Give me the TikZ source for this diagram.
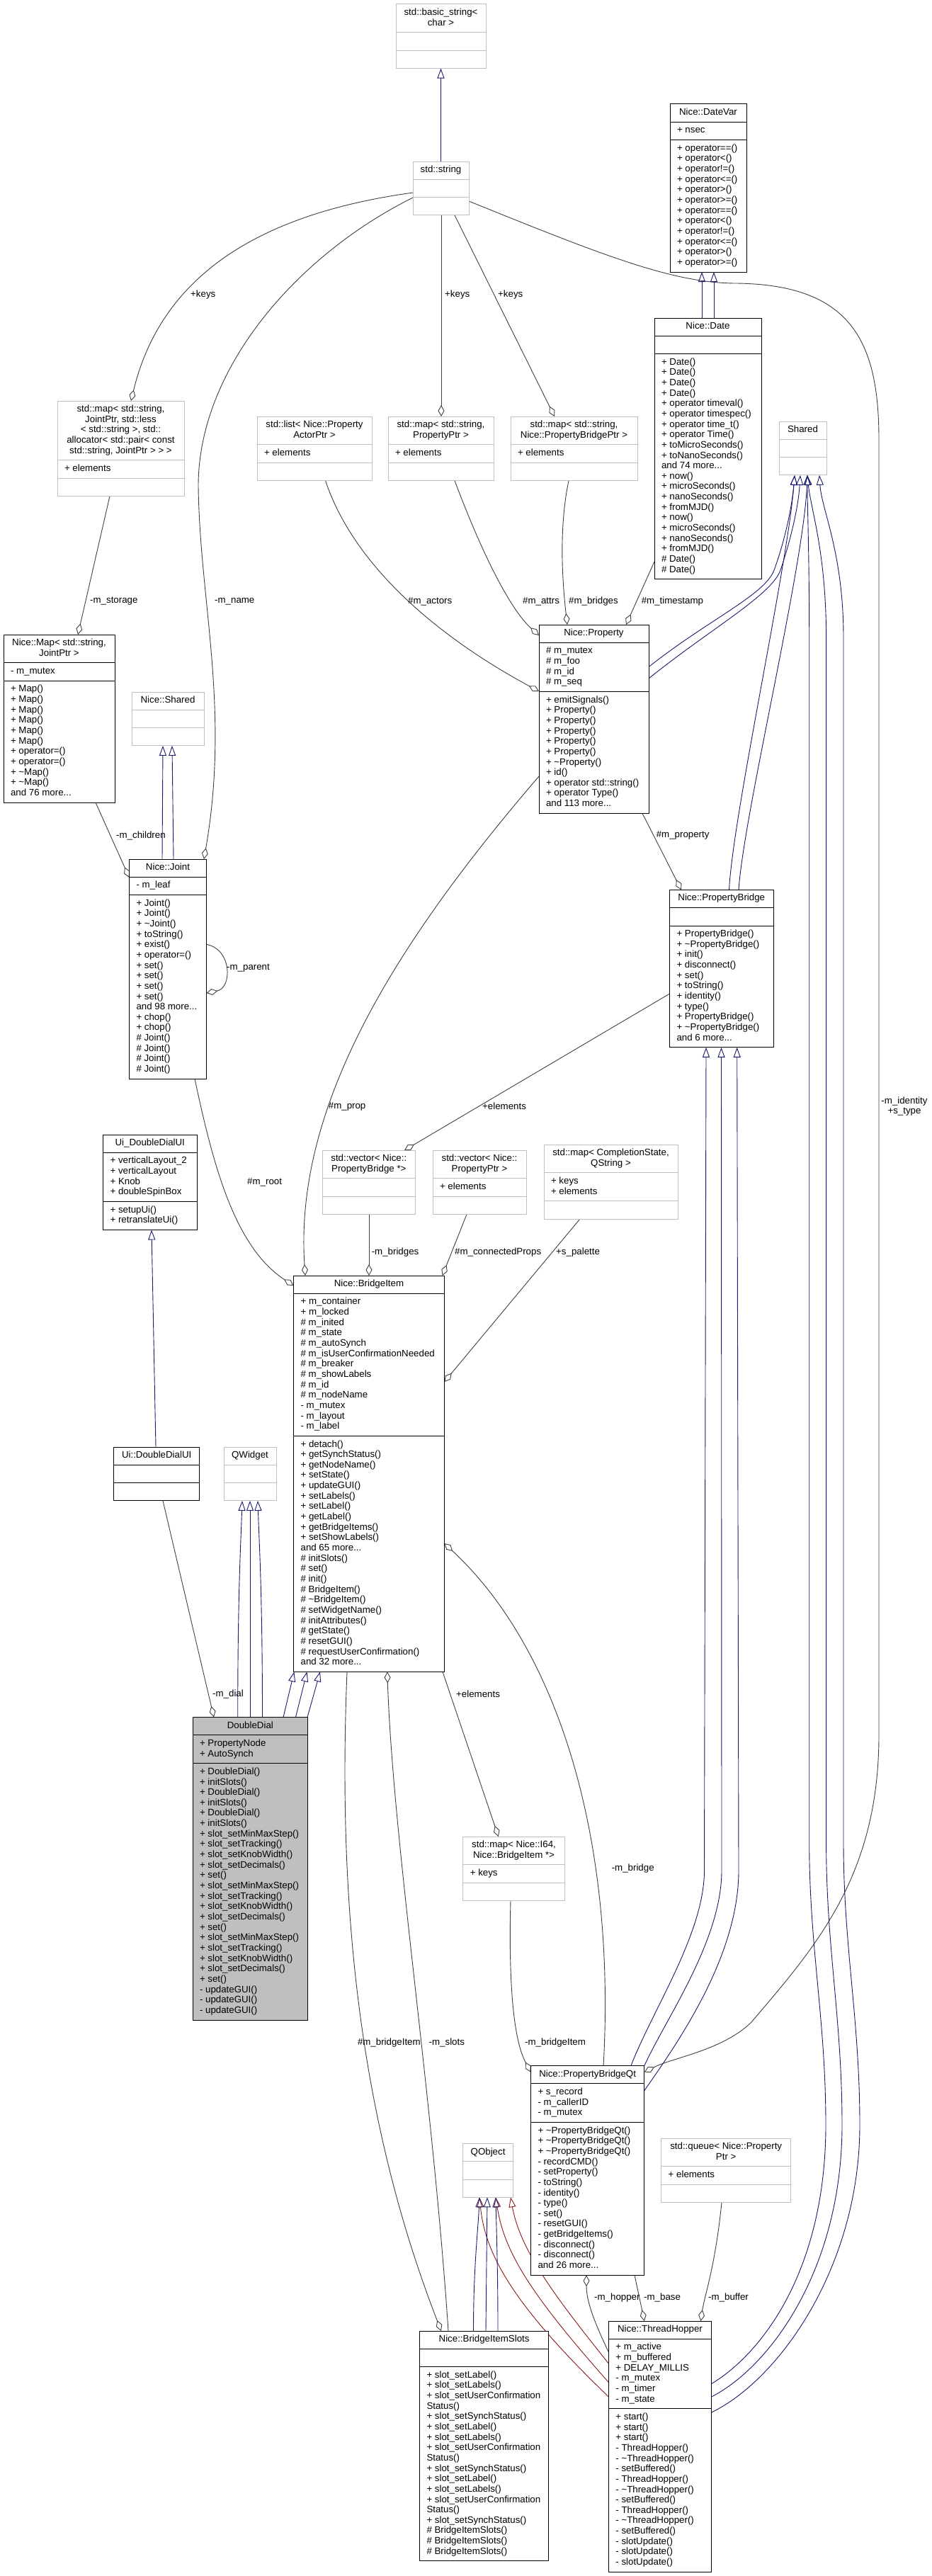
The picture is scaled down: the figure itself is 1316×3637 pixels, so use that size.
\documentclass[tikz,border=0pt]{standalone}
\usepackage{fontspec}
\setmainfont{Liberation Sans}
\usetikzlibrary{arrows.meta}

\definecolor{boxgray}{HTML}{BFBFBF}
\definecolor{edgegray}{HTML}{404040}
\definecolor{inheritblue}{HTML}{191970}
\definecolor{privatered}{HTML}{8B1A1A}

\pgfdeclarelayer{background}
\pgfsetlayers{background,main}

\newcommand{\memberfont}{\fontsize{13.3}{14.65}\selectfont}
\newcommand{\tld}{\textasciitilde}

% class head: style, name, top left corner, width, lines, title
\newcommand{\umlhead}[6]{%
  \tikzset{curbox/.style={#1, minimum width=#4pt}}%
  \node[curbox, anchor=north west, minimum height={10.65pt+#5*14.65pt}] (#2) at (#3) {};
  \node[member, align=center] (#2-t) at (#2.center) {\strut#6\strut};
}
% compartment below: name, compartment above, lines, members
\newcommand{\umlpart}[4]{%
  \node[curbox, anchor=north west, minimum height={10.65pt+#3*14.65pt}] (#1) at (#2.south west) {};
  \node[member, align=left, anchor=west] (#1-t) at ([xshift=10pt]#1.west) {\strut#4\strut};
}

\begin{document}
\begin{tikzpicture}[
    x=1pt, y=-1pt,
    classbox/.style={draw=black, line width=1pt, fill=white, inner sep=0pt, outer sep=0pt},
    extclass/.style={classbox, draw=boxgray},
    focusclass/.style={classbox, fill=boxgray},
    member/.style={font=\memberfont, inner sep=0pt, outer sep=0pt},
    elabel/.style={font=\memberfont, inner sep=0pt, anchor=west},
    aggr/.style={draw=edgegray, line width=0.9pt, -{Diamond[open, length=16pt, width=9pt]}},
    derive/.style={draw=inheritblue, line width=0.9pt, -{Triangle[open, length=14pt, width=10pt]}},
    privderive/.style={derive, draw=privatered}
]
\useasboundingbox (0,0) rectangle (1316,3637);

% Strings and dates
\umlhead{extclass}{basic}{559,6}{127}{2}{std::basic\_string<\\char >}
\umlpart{basic-a}{basic}{1}{}
\umlpart{basic-m}{basic-a}{1}{}

\umlhead{extclass}{str}{583,228}{79}{1}{std::string}
\umlpart{str-a}{str}{1}{}
\umlpart{str-m}{str-a}{1}{}

\umlhead{classbox}{datevar}{946,147}{108}{1}{Nice::DateVar}
\umlpart{datevar-a}{datevar}{1}{+ nsec}
\umlpart{datevar-m}{datevar-a}{12}{+ operator==()\\+ operator<()\\+ operator!=()\\+ operator<=()\\+ operator>()\\+ operator>=()\\+ operator==()\\+ operator<()\\+ operator!=()\\+ operator<=()\\+ operator>()\\+ operator>=()}

\umlhead{classbox}{date}{924,449}{151}{1}{Nice::Date}
\umlpart{date-a}{date}{1}{}
\umlpart{date-m}{date-a}{21}{+ Date()\\+ Date()\\+ Date()\\+ Date()\\+ operator timeval()\\+ operator timespec()\\+ operator time\_t()\\+ operator Time()\\+ toMicroSeconds()\\+ toNanoSeconds()\\and 74 more...\\+ now()\\+ microSeconds()\\+ nanoSeconds()\\+ fromMJD()\\+ now()\\+ microSeconds()\\+ nanoSeconds()\\+ fromMJD()\\\# Date()\\\# Date()}

% Containers
\umlhead{extclass}{mapjoint}{81,566}{179}{5}{std::map< std::string,\\ JointPtr, std::less\\< std::string >, std::\\allocator< std::pair< const\\ std::string, JointPtr > > >}
\umlpart{mapjoint-a}{mapjoint}{1}{+ elements}
\umlpart{mapjoint-m}{mapjoint-a}{1}{}

\umlhead{extclass}{listactor}{363,588}{162}{2}{std::list< Nice::Property\\ActorPtr >}
\umlpart{listactor-a}{listactor}{1}{+ elements}
\umlpart{listactor-m}{listactor-a}{1}{}

\umlhead{extclass}{mapprop}{548,588}{149}{2}{std::map< std::string,\\PropertyPtr >}
\umlpart{mapprop-a}{mapprop}{1}{+ elements}
\umlpart{mapprop-m}{mapprop-a}{1}{}

\umlhead{extclass}{mapbridge}{721,588}{179}{2}{std::map< std::string,\\Nice::PropertyBridgePtr >}
\umlpart{mapbridge-a}{mapbridge}{1}{+ elements}
\umlpart{mapbridge-m}{mapbridge-a}{1}{}

\umlhead{extclass}{shared}{1100,595}{67}{1}{Shared}
\umlpart{shared-a}{shared}{1}{}
\umlpart{shared-m}{shared-a}{1}{}

% Property
\umlhead{classbox}{property}{761,882}{155}{1}{Nice::Property}
\umlpart{property-a}{property}{4}{\# m\_mutex\\\# m\_foo\\\# m\_id\\\# m\_seq}
\umlpart{property-m}{property-a}{11}{+ emitSignals()\\+ Property()\\+ Property()\\+ Property()\\+ Property()\\+ Property()\\+ \tld Property()\\+ id()\\+ operator std::string()\\+ operator Type()\\and 113 more...}

% Map and Joint
\umlhead{classbox}{map}{5,896}{157}{2}{Nice::Map< std::string,\\JointPtr >}
\umlpart{map-a}{map}{1}{- m\_mutex}
\umlpart{map-m}{map-a}{11}{+ Map()\\+ Map()\\+ Map()\\+ Map()\\+ Map()\\+ Map()\\+ operator=()\\+ operator=()\\+ \tld Map()\\+ \tld Map()\\and 76 more...}

\umlhead{extclass}{nshared}{186,977}{102}{1}{Nice::Shared}
\umlpart{nshared-a}{nshared}{1}{}
\umlpart{nshared-m}{nshared-a}{1}{}

\umlhead{classbox}{joint}{182.5,1213}{109}{1}{Nice::Joint}
\umlpart{joint-a}{joint}{1}{- m\_leaf}
\umlpart{joint-m}{joint-a}{17}{+ Joint()\\+ Joint()\\+ \tld Joint()\\+ toString()\\+ exist()\\+ operator=()\\+ set()\\+ set()\\+ set()\\+ set()\\and 98 more...\\+ chop()\\+ chop()\\\# Joint()\\\# Joint()\\\# Joint()\\\# Joint()}

% PropertyBridge
\umlhead{classbox}{pbridge}{945.5,1256.4}{146.5}{1}{Nice::PropertyBridge}
\umlpart{pbridge-a}{pbridge}{1}{}
\umlpart{pbridge-m}{pbridge-a}{11}{+ PropertyBridge()\\+ \tld PropertyBridge()\\+ init()\\+ disconnect()\\+ set()\\+ toString()\\+ identity()\\+ type()\\+ PropertyBridge()\\+ \tld PropertyBridge()\\and 6 more...}

% Ui classes
\umlhead{classbox}{uidd}{145.6,1602}{132.4}{1}{Ui\_DoubleDialUI}
\umlpart{uidd-a}{uidd}{4}{+ verticalLayout\_2\\+ verticalLayout\\+ Knob\\+ doubleSpinBox}
\umlpart{uidd-m}{uidd-a}{2}{+ setupUi()\\+ retranslateUi()}

\umlhead{classbox}{uidd2}{160.7,2043}{121}{1}{Ui::DoubleDialUI}
\umlpart{uidd2-a}{uidd2}{1}{}
\umlpart{uidd2-m}{uidd2-a}{1}{}

\umlhead{extclass}{qwidget}{316,2043}{74}{1}{QWidget}
\umlpart{qwidget-a}{qwidget}{1}{}
\umlpart{qwidget-m}{qwidget-a}{1}{}

% BridgeItem members
\umlhead{extclass}{vecpb}{455,1624}{131.6}{2}{std::vector< Nice::\\PropertyBridge *>}
\umlpart{vecpb-a}{vecpb}{1}{}
\umlpart{vecpb-m}{vecpb-a}{1}{}

\umlhead{extclass}{vecprop}{611,1624}{132}{2}{std::vector< Nice::\\PropertyPtr >}
\umlpart{vecprop-a}{vecprop}{1}{+ elements}
\umlpart{vecprop-m}{vecprop-a}{1}{}

\umlhead{extclass}{mapcs}{768,1616}{189}{2}{std::map< CompletionState,\\QString >}
\umlpart{mapcs-a}{mapcs}{2}{+ keys\\+ elements}
\umlpart{mapcs-m}{mapcs-a}{1}{}

\umlhead{classbox}{bitem}{414.6,1801}{212.8}{1}{Nice::BridgeItem}
\umlpart{bitem-a}{bitem}{13}{+ m\_container\\+ m\_locked\\\# m\_inited\\\# m\_state\\\# m\_autoSynch\\\# m\_isUserConfirmationNeeded\\\# m\_breaker\\\# m\_showLabels\\\# m\_id\\\# m\_nodeName\\- m\_mutex\\- m\_layout\\- m\_label}
\umlpart{bitem-m}{bitem-a}{22}{+ detach()\\+ getSynchStatus()\\+ getNodeName()\\+ setState()\\+ updateGUI()\\+ setLabels()\\+ setLabel()\\+ getLabel()\\+ getBridgeItems()\\+ setShowLabels()\\and 65 more...\\\# initSlots()\\\# set()\\\# init()\\\# BridgeItem()\\\# \tld BridgeItem()\\\# setWidgetName()\\\# initAttributes()\\\# getState()\\\# resetGUI()\\\# requestUserConfirmation()\\and 32 more...}

% DoubleDial
\umlhead{focusclass}{dd}{272,2424.5}{162.7}{1}{DoubleDial}
\umlpart{dd-a}{dd}{2}{+ PropertyNode\\+ AutoSynch}
\umlpart{dd-m}{dd-a}{24}{+ DoubleDial()\\+ initSlots()\\+ DoubleDial()\\+ initSlots()\\+ DoubleDial()\\+ initSlots()\\+ slot\_setMinMaxStep()\\+ slot\_setTracking()\\+ slot\_setKnobWidth()\\+ slot\_setDecimals()\\+ set()\\+ slot\_setMinMaxStep()\\+ slot\_setTracking()\\+ slot\_setKnobWidth()\\+ slot\_setDecimals()\\+ set()\\+ slot\_setMinMaxStep()\\+ slot\_setTracking()\\+ slot\_setKnobWidth()\\+ slot\_setDecimals()\\+ set()\\- updateGUI()\\- updateGUI()\\- updateGUI()}

% Qt side
\umlhead{extclass}{mapi64}{653.8,2593}{143.5}{2}{std::map< Nice::I64,\\Nice::BridgeItem *>}
\umlpart{mapi64-a}{mapi64}{1}{+ keys}
\umlpart{mapi64-m}{mapi64-a}{1}{}

\umlhead{classbox}{pbqt}{749.5,2916.6}{160.3}{1}{Nice::PropertyBridgeQt}
\umlpart{pbqt-a}{pbqt}{3}{+ s\_record\\- m\_callerID\\- m\_mutex}
\umlpart{pbqt-m}{pbqt-a}{14}{+ \tld PropertyBridgeQt()\\+ \tld PropertyBridgeQt()\\+ \tld PropertyBridgeQt()\\- recordCMD()\\- setProperty()\\- toString()\\- identity()\\- type()\\- set()\\- resetGUI()\\- getBridgeItems()\\- disconnect()\\- disconnect()\\and 26 more...}

\umlhead{extclass}{qobject}{653.8,3026.4}{70.5}{1}{QObject}
\umlpart{qobject-a}{qobject}{1}{}
\umlpart{qobject-m}{qobject-a}{1}{}

\umlhead{extclass}{queue}{933.7,3019}{183}{2}{std::queue< Nice::Property\\Ptr >}
\umlpart{queue-a}{queue}{1}{+ elements}
\umlpart{queue-m}{queue-a}{1}{}

\umlhead{classbox}{bislots}{592.5,3291}{182.2}{1}{Nice::BridgeItemSlots}
\umlpart{bislots-a}{bislots}{1}{}
\umlpart{bislots-m}{bislots-a}{18}{+ slot\_setLabel()\\+ slot\_setLabels()\\+ slot\_setUserConfirmation\\Status()\\+ slot\_setSynchStatus()\\+ slot\_setLabel()\\+ slot\_setLabels()\\+ slot\_setUserConfirmation\\Status()\\+ slot\_setSynchStatus()\\+ slot\_setLabel()\\+ slot\_setLabels()\\+ slot\_setUserConfirmation\\Status()\\+ slot\_setSynchStatus()\\\# BridgeItemSlots()\\\# BridgeItemSlots()\\\# BridgeItemSlots()}

\umlhead{classbox}{hopper}{859.4,3277}{145.2}{1}{Nice::ThreadHopper}
\umlpart{hopper-a}{hopper}{6}{+ m\_active\\+ m\_buffered\\+ DELAY\_MILLIS\\- m\_mutex\\- m\_timer\\- m\_state}
\umlpart{hopper-m}{hopper-a}{15}{+ start()\\+ start()\\+ start()\\- ThreadHopper()\\- \tld ThreadHopper()\\- setBuffered()\\- ThreadHopper()\\- \tld ThreadHopper()\\- setBuffered()\\- ThreadHopper()\\- \tld ThreadHopper()\\- setBuffered()\\- slotUpdate()\\- slotUpdate()\\- slotUpdate()}

\begin{pgfonlayer}{background}
\fill[white] (0,0) rectangle (1316,3637);

% std::string uses
\draw[derive] (str.north) -- (basic-m.south);
\draw[aggr] ([shift={(0,44)}]str.north west) .. controls (380,300) and (230,380) .. ([shift={(104,0)}]mapjoint.north west);
\draw[aggr] ([shift={(0,51)}]str.north west) .. controls (420,360) and (280,520) .. (280,686) .. controls (282,850) and (325,1000) .. ([shift={(105.5,0)}]joint.north west);
\draw[aggr] ([shift={(40,0)}]str-m.south west) -- ([shift={(75,0)}]mapprop.north west);
\draw[aggr] ([shift={(59,0)}]str-m.south west) -- ([shift={(62,0)}]mapbridge.north west);
\draw[aggr] ([shift={(0,56)}]str.north east) .. controls (850,360) and (950,400) .. (1040,400) .. controls (1200,402) and (1241,480) .. (1241,620) -- (1241,2450) .. controls (1241,2650) and (1150,2750) .. (1061,2855) .. controls (1020,2895) and (950,2905) .. ([shift={(0,9)}]pbqt.north east);

% Date
\draw[derive] ([shift={(67,0)}]date.north west) -- ([shift={(45,0)}]datevar-m.south west);
\draw[derive] ([shift={(84,0)}]date.north west) -- ([shift={(62,0)}]datevar-m.south west);
\draw[aggr] ([shift={(0,344)}]date.north west) -- ([shift={(123,0)}]property.north west);

% Property members
\draw[aggr] ([shift={(96.5,0)}]listactor-m.south west) .. controls (500,800) and (620,900) .. ([shift={(0,94)}]property.north west);
\draw[aggr] ([shift={(94,0)}]mapprop-m.south west) .. controls (680,780) and (720,860) .. ([shift={(0,15)}]property.north west);
\draw[aggr] ([shift={(82,0)}]mapbridge-m.south west) .. controls (788,750) and (795,830) .. ([shift={(40,0)}]property.north west);

% Shared
\draw[derive] ([shift={(0,59.6)}]property.north east) .. controls (1000,875) and (1080,840) .. (1093,805) .. controls (1106,770) and (1118,720) .. ([shift={(22,0)}]shared-m.south west);
\draw[derive] ([shift={(0,76)}]property.north east) .. controls (1000,890) and (1090,840) .. (1102,805) .. controls (1114,770) and (1127,720) .. ([shift={(30,0)}]shared-m.south west);
\draw[derive] ([shift={(84,0)}]pbridge.north west) .. controls (1035,1150) and (1112,800) .. ([shift={(22,0)}]shared-m.south west);
\draw[derive] ([shift={(97.5,0)}]pbridge.north west) .. controls (1050,1150) and (1135,800) .. ([shift={(40,0)}]shared-m.south west);
\draw[derive] ([shift={(0,88.6)}]hopper.north east) .. controls (1080,3320) and (1166,3200) .. (1166,3000) .. controls (1166,2850) and (1142.7,2750) .. (1142.7,2600) -- (1142.7,900) .. controls (1142.7,780) and (1140,720) .. ([shift={(40,0)}]shared-m.south west);
\draw[derive] ([shift={(0,107)}]hopper.north east) .. controls (1090,3340) and (1189,3200) .. (1189,3000) .. controls (1189,2850) and (1166.6,2750) .. (1166.6,2600) -- (1166.6,900) .. controls (1166.6,780) and (1145,720) .. ([shift={(40,0)}]shared-m.south west);
\draw[derive] ([shift={(0,129)}]hopper.north east) .. controls (1100,3360) and (1214,3200) .. (1214,3000) .. controls (1214,2850) and (1191,2750) .. (1191,2600) -- (1191,900) .. controls (1191,780) and (1160,720) .. ([shift={(57,0)}]shared-m.south west);

% PropertyBridge
\draw[aggr] ([shift={(146,0)}]property-m.south west) -- ([shift={(16.5,0)}]pbridge.north west);
\draw[aggr] ([shift={(0,146.6)}]pbridge.north west) -- ([shift={(116,0)}]vecpb.north west);
\draw[derive] ([shift={(141.5,0)}]pbqt.north west) .. controls (920,2840) and (994.5,2730) .. (994.5,2641) -- ([shift={(51.5,0)}]pbridge-m.south west);
\draw[derive] (pbqt.north east) .. controls (940,2850) and (1019,2740) .. (1019,2641) -- ([shift={(73,0)}]pbridge-m.south west);
\draw[derive] ([shift={(0,35)}]pbqt.north east) .. controls (960,2880) and (1043,2760) .. (1043,2641) -- ([shift={(95.2,0)}]pbridge-m.south west);

% Joint
\draw[derive] ([shift={(46.5,0)}]joint.north west) -- ([shift={(44,0)}]nshared-m.south west);
\draw[derive] ([shift={(62.5,0)}]joint.north west) -- ([shift={(57,0)}]nshared-m.south west);
\draw[aggr] ([shift={(74,0)}]mapjoint-m.south west) -- ([shift={(105,0)}]map.north west);
\draw[aggr] ([shift={(130,0)}]map-m.south west) -- ([shift={(0,26)}]joint.north west);
\draw[aggr] ([shift={(0,120.4)}]joint.north east) .. controls (328,1340) and (328,1395) .. ([shift={(0,189)}]joint.north east);

% BridgeItem members
\draw[aggr] ([shift={(92.5,0)}]joint-m.south west) .. controls (300,1640) and (330,1760) .. ([shift={(0,14)}]bitem.north west);
\draw[aggr] ([shift={(0,214)}]property.north west) .. controls (560,1330) and (415,1560) .. ([shift={(16.4,0)}]bitem.north west);
\draw[aggr] ([shift={(66,0)}]vecpb-m.south west) -- ([shift={(106.4,0)}]bitem.north west);
\draw[aggr] ([shift={(48,0)}]vecprop-m.south west) -- ([shift={(210,0)}]bitem.north west);
\draw[aggr] ([shift={(50.7,0)}]mapcs-m.south west) -- ([shift={(0,150)}]bitem.north east);
\draw[aggr] ([shift={(102.5,0)}]pbqt.north west) .. controls (870,2600) and (790,2330) .. ([shift={(0,378)}]bitem.north east);

% DoubleDial
\draw[derive] ([shift={(59.3,0)}]uidd2.north west) -- ([shift={(68.4,0)}]uidd-m.south west);
\draw[aggr] ([shift={(69.3,0)}]uidd2-m.south west) -- ([shift={(30,0)}]dd.north west);
\draw[derive] ([shift={(63.7,0)}]dd.north west) .. controls (335.7,2250) and (340,2180) .. ([shift={(26,0)}]qwidget-m.south west);
\draw[derive] ([shift={(81,0)}]dd.north west) -- ([shift={(37,0)}]qwidget-m.south west);
\draw[derive] ([shift={(98.5,0)}]dd.north west) .. controls (370.5,2250) and (366,2180) .. ([shift={(48,0)}]qwidget-m.south west);
\draw[derive] ([shift={(128,0)}]dd.north west) -- ([shift={(0.8,0)}]bitem-m.south west);
\draw[derive] ([shift={(145.5,0)}]dd.north west) -- ([shift={(18.9,0)}]bitem-m.south west);
\draw[derive] ([shift={(162,0)}]dd.north west) -- ([shift={(37.4,0)}]bitem-m.south west);

% BridgeItemSlots and maps
\draw[aggr] ([shift={(75.4,0)}]bitem-m.south west) .. controls (476,2700) and (510,3000) .. ([shift={(30.5,0)}]bislots.north west);
\draw[aggr] ([shift={(40.5,0)}]bislots.north west) .. controls (610,2950) and (555,2600) .. ([shift={(132.2,0)}]bitem-m.south west);
\draw[aggr] ([shift={(210.4,0)}]bitem-m.south west) -- ([shift={(50,0)}]mapi64.north west);
\draw[aggr] ([shift={(67.2,0)}]mapi64-m.south west) .. controls (718,2800) and (725,2880) .. ([shift={(0,9)}]pbqt.north west);

% ThreadHopper
\draw[aggr] ([shift={(0,44)}]hopper.north west) .. controls (840,3280) and (828,3250) .. ([shift={(78.5,0)}]pbqt-m.south west);
\draw[aggr] ([shift={(146.5,0)}]pbqt-m.south west) -- ([shift={(50.5,0)}]hopper.north west);
\draw[aggr] ([shift={(85.3,0)}]queue-m.south west) .. controls (1010,3200) and (995,3240) .. ([shift={(130,0)}]hopper.north west);
\draw[privderive] ([shift={(0,60)}]hopper.north west) .. controls (790,3250) and (735,3180) .. ([shift={(67.2,0)}]qobject-m.south west);
\draw[privderive] ([shift={(0,86.6)}]hopper.north west) .. controls (750,3240) and (712,3180) .. ([shift={(46.2,0)}]qobject-m.south west);
\draw[privderive] ([shift={(0,107)}]hopper.north west) .. controls (720,3250) and (685,3180) .. ([shift={(23.2,0)}]qobject-m.south west);

% QObject
\draw[derive] ([shift={(76,0)}]bislots.north west) .. controls (668.5,3200) and (675,3150) .. ([shift={(23.2,0)}]qobject-m.south west);
\draw[derive] ([shift={(93.5,0)}]bislots.north west) -- ([shift={(34.2,0)}]qobject-m.south west);
\draw[derive] ([shift={(110.5,0)}]bislots.north west) .. controls (703,3200) and (701,3150) .. ([shift={(46.2,0)}]qobject-m.south west);
\end{pgfonlayer}

% Edge labels
\node[elabel] (l-keys1) at (269,416) {+keys};
\node[elabel] (l-keys2) at (628,416) {+keys};
\node[elabel] (l-keys3) at (703,416) {+keys};
\node[elabel] (l-storage) at (127,849) {-m\_storage};
\node[elabel] (l-name) at (303,849) {-m\_name};
\node[elabel] (l-actors) at (576,849) {\#m\_actors};
\node[elabel] (l-attrs) at (738,849) {\#m\_attrs};
\node[elabel] (l-bridges) at (803,849) {\#m\_bridges};
\node[elabel] (l-timestamp) at (905.6,849) {\#m\_timestamp};
\node[elabel] (l-children) at (164,1180) {-m\_children};
\node[elabel] (l-property) at (926.6,1179.6) {\#m\_property};
\node[elabel] (l-parent) at (320,1366.5) {-m\_parent};
\node[elabel] (l-prop) at (463.7,1562) {\#m\_prop};
\node[elabel] (l-elements1) at (681,1562) {+elements};
\node[font=\memberfont, inner sep=0pt, align=center] (l-identity) at (1277,1562) {-m\_identity\\+s\_type};
\node[elabel] (l-root) at (349,1669) {\#m\_root};
\node[elabel] (l-vbridges) at (524.6,1768) {-m\_bridges};
\node[elabel] (l-connected) at (642,1768) {\#m\_connectedProps};
\node[elabel] (l-palette) at (785,1768) {+s\_palette};
\node[elabel] (l-dial) at (300,2392) {-m\_dial};
\node[elabel] (l-elements2) at (644,2392) {+elements};
\node[elabel] (l-bridge) at (863.6,2638) {-m\_bridge};
\node[elabel] (l-bitem1) at (504.8,2883.6) {\#m\_bridgeItem};
\node[elabel] (l-slots) at (605.5,2883.6) {-m\_slots};
\node[elabel] (l-bitem2) at (741,2883.6) {-m\_bridgeItem};
\node[elabel] (l-hopper) at (839,3243.7) {-m\_hopper};
\node[elabel] (l-base) at (909,3243.7) {-m\_base};
\node[elabel] (l-buffer) at (1000,3243.7) {-m\_buffer};
\end{tikzpicture}
\end{document}
